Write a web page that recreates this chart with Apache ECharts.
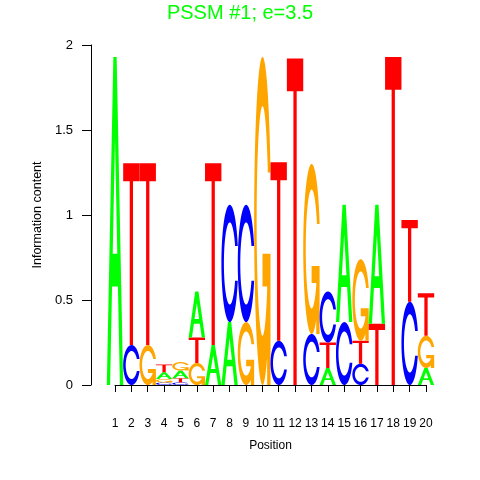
<!DOCTYPE html>
<html>
<head>
<meta charset="utf-8">
<script src="https://cdn.jsdelivr.net/npm/echarts@6/dist/echarts.min.js"></script>
<style>html,body{margin:0;padding:0;background:#fff;}#chart{width:480px;height:480px;}</style>
</head>
<body>
<div id="chart"></div>
<script>
// ---- data ----
const positions = [1,2,3,4,5,6,7,8,9,10,11,12,13,14,15,16,17,18,19,20];
const heightA = [1.93,0,0,0.04,0.045,0.27,0.235,0.37,0,0,0,0,0,0.10,0.69,0,0.70,0,0,0.10];
const heightC = [0,0.235,0,0.015,0.015,0,0,0.69,0.69,0,0.26,0,0.30,0.30,0.37,0.125,0,0,0.49,0];
const heightG = [0,0,0.235,0.02,0.05,0.13,0,0,0.37,1.93,0,0,1.00,0,0,0.48,0,0,0,0.19];
const heightT = [0,1.07,1.07,0.045,0.025,0.15,1.07,0,0,0,1.05,1.92,0,0.15,0,0.135,0.36,1.93,0.48,0.25];
// stacking order bottom -> top per position
const stackOrder = ["A","CT","GT","CGAT","CTAG","GTA","AT","AC","GC","G","CT","T","CG","ATC","CA","CTG","TA","T","CT","AGT"];
const titleText = "PSSM #1; e=3.5";

// ---- letter glyph shapes (unit square, y up) ----
function P(x,y){ return (x*100).toFixed(3)+' '+((1-y)*100).toFixed(3); }
function poly(pts){ return 'M'+pts.map(p=>P(p[0],p[1])).join(' L')+' Z'; }
function seq(a,b,n){ const r=[]; for(let i=0;i<n;i++) r.push(a+(b-a)*i/(n-1)); return r; }
function ringPts(){
  const a1 = seq(0.3+Math.PI/2, Math.PI, 60), a2 = seq(Math.PI, 1.5*Math.PI, 60);
  const ang = a1.concat(a2);
  const xl = ang.map(a=>0.5+0.5*Math.sin(a)), yl = ang.map(a=>0.5+0.5*Math.cos(a));
  const maxY1 = Math.max(...a1.map(a=>0.5+0.5*Math.cos(a)));
  const outer = [];
  for(let i=0;i<xl.length;i++) outer.push([xl[i],yl[i]]);
  for(let i=xl.length-1;i>=0;i--) outer.push([xl[i],1-yl[i]]);
  let xi1=[], yi1=[];
  a1.forEach(a=>{ const x=0.5+0.35*Math.sin(a), y=0.5+0.35*Math.cos(a); if(y<=maxY1){xi1.push(x);yi1.push(y);} });
  yi1[0]=maxY1;
  const xi = xi1.concat(a2.map(a=>0.5+0.35*Math.sin(a)));
  const yi = yi1.concat(a2.map(a=>0.5+0.35*Math.cos(a)));
  const inner = [];
  for(let i=0;i<xi.length;i++) inner.push([xi[i],yi[i]]);
  for(let i=xi.length-1;i>=0;i--) inner.push([xi[i],1-yi[i]]);
  const r1 = Math.max(...a1.map(a=>0.5+0.5*Math.sin(a)));
  return {pts: outer.concat(inner.slice().reverse()), r1};
}
const ring = ringPts();
const r1 = ring.r1;
const PATHS = {
  A: poly([[0,0],[0.4,1],[0.6,1],[1,0],[0.8,0],[0.68,0.3],[0.32,0.3],[0.2,0]]) + ' ' + poly([[0.36,0.4],[0.64,0.4],[0.5,0.75]]),
  C: poly(ring.pts),
  G: poly(ring.pts) + ' ' + poly([[r1,0.4],[r1,0],[r1-0.2,0],[r1-0.2,0.3],[0.5,0.3],[0.5,0.4]]),
  T: poly([[0,1],[1,1],[1,0.9],[0.6,0.9],[0.6,0],[0.4,0],[0.4,0.9],[0,0.9]])
};
const COLORS = {A:'#00FF00', C:'#0000FF', G:'#FFA500', T:'#FF0000'};
const LETTERS = ['A','C','G','T'];
const heightsBy = {A:heightA, C:heightC, G:heightG, T:heightT};

// ---- build stacked marks ----
const marks = [];
positions.forEach((pos,i)=>{
  let base = 0;
  stackOrder[i].split('').forEach(L=>{
    const h = heightsBy[L][i];
    if(h>0){ marks.push([pos, base, base+h, LETTERS.indexOf(L)]); base += h; }
  });
});

const FONT = 'Liberation Sans, Arial, Helvetica, sans-serif';
const chart = echarts.init(document.getElementById('chart'), null, {renderer:'canvas'});
chart.setOption({
  animation:false,
  backgroundColor:'#fff',
  title:{text:titleText, left:'center', top:-2, textStyle:{color:'#00FF00', fontSize:20, fontWeight:'normal', fontFamily:FONT}},
  grid:{left:115, right:54, top:45, bottom:95, containLabel:false},
  xAxis:{type:'value', min:1, max:20, interval:1, position:'bottom', offset:18,
    name:'Position', nameLocation:'middle', nameGap:37,
    nameTextStyle:{color:'#000', fontSize:12, fontFamily:FONT},
    axisLine:{show:true, lineStyle:{color:'#000', width:1}},
    axisTick:{show:true, length:7, lineStyle:{color:'#000'}},
    axisLabel:{color:'#000', fontSize:12, fontFamily:FONT, margin:15},
    splitLine:{show:false}},
  yAxis:{type:'value', min:0, max:2, interval:0.5, offset:24,
    name:'Information content', nameLocation:'middle', nameGap:47, nameRotate:90,
    nameTextStyle:{color:'#000', fontSize:12.5, fontFamily:FONT},
    axisLine:{show:true, lineStyle:{color:'#000', width:1}},
    axisTick:{show:true, length:9, lineStyle:{color:'#000'}},
    axisLabel:{color:'#000', fontSize:13, fontFamily:FONT, margin:18},
    splitLine:{show:false}},
  series:[{
    type:'custom', clip:false,
    data:marks,
    encode:{x:0, y:[1,2]},
    renderItem:function(params, api){
      const pos=api.value(0), y0=api.value(1), y1=api.value(2), li=api.value(3);
      const L = LETTERS[li];
      const p0 = api.coord([pos-0.5, y0]);
      const p1 = api.coord([pos+0.5, y1]);
      return {type:'path',
        shape:{pathData:PATHS[L], x:p0[0], y:p1[1], width:p1[0]-p0[0], height:p0[1]-p1[1], layout:'cover'},
        style:{fill:COLORS[L], stroke:null}};
    }
  }]
});
</script>
</body>
</html>
